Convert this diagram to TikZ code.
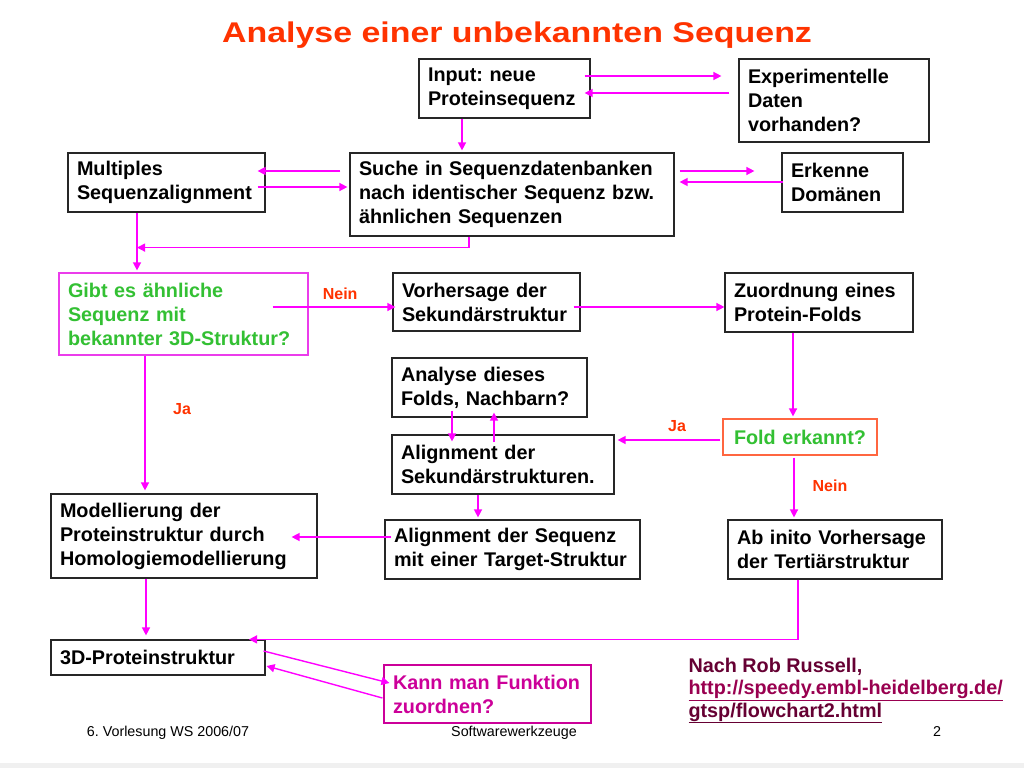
\documentclass[tikz,border=0pt]{standalone}
\usepackage{fontspec}
\setmainfont{Liberation Sans}
\usetikzlibrary{arrows.meta}
\definecolor{titlered}{RGB}{255,51,0}
\definecolor{okgreen}{RGB}{51,192,51}
\definecolor{kannpink}{RGB}{204,0,153}
\definecolor{arrmag}{RGB}{255,0,255}
\definecolor{gibtpink}{RGB}{235,60,235}
\definecolor{foldorange}{RGB}{255,102,64}
\definecolor{boxline}{RGB}{38,38,38}
\definecolor{srcdark}{RGB}{102,0,51}
\definecolor{srclink}{RGB}{153,0,80}
\frenchspacing
\begin{document}
\begin{tikzpicture}[x=1pt,y=-1pt,
  box/.style={draw=boxline,line width=1.2pt,inner xsep=9pt,inner ysep=0pt,align=left,
    font=\fontsize{19.8}{24}\selectfont\bfseries},
  arr/.style={draw=arrmag,line width=1.4pt,-{Triangle[length=8pt,width=8pt]}},
  lbl/.style={text=titlered,font=\fontsize{16}{18}\selectfont\bfseries},
  foot/.style={anchor=base,font=\fontsize{14.3}{16}\selectfont},
  ref/.style={anchor=base west,font=\fontsize{19.8}{24}\selectfont\bfseries}]
  \useasboundingbox[fill=white] (0,0) rectangle (1024,768);
  \fill[gray!12] (0,763) rectangle (1024,768);
  \node[anchor=base,text=titlered,font=\fontsize{28.5}{32}\selectfont\bfseries] (title) at (517,43)
    {\scalebox{1.19}[1]{Analyse einer unbekannten Sequenz}};

  % boxes
  \node[box,text width=153pt,minimum height=59pt] (input) at (504.5,88.5) {Input: neue\\Proteinsequenz};
  \node[box,text width=172pt,minimum height=83pt] (exper) at (834,100.5) {Experimentelle\\Daten\\vorhanden?};
  \node[box,text width=306pt,minimum height=83pt] (suche) at (512,194.5)
    {Suche in Sequenzdatenbanken\\nach identischer Sequenz bzw.\\ähnlichen Sequenzen};
  \node[box,text width=103pt,minimum height=59pt] (erkenne) at (842.5,182.5) {Erkenne\\Domänen};
  \node[box,text width=179pt,minimum height=59pt] (multi) at (166.5,182.5) {Multiples\\Sequenzalignment};
  \node[box,draw=gibtpink,text=okgreen,text width=231pt,minimum height=82pt] (gibt) at (183.5,314)
    {Gibt es ähnliche\\Sequenz mit\\bekannter 3D-Struktur?};
  \node[box,text width=169pt,minimum height=58pt] (vorher) at (486.5,302) {Vorhersage der\\Sekundärstruktur};
  \node[box,text width=170pt,minimum height=59pt] (zuord) at (819,302.5) {Zuordnung eines\\Protein-Folds};
  \node[box,text width=177pt,minimum height=59pt] (analyse) at (489.5,387.5) {Analyse dieses\\Folds, Nachbarn?};
  \node[box,text width=204pt,minimum height=59pt] (alignsek) at (503,464.5) {Alignment der\\Sekundärstrukturen.};
  \node[box,draw=foldorange,text=okgreen,align=center,text width=136pt,minimum height=36pt] (fold) at (800,437)
    {Fold erkannt?};
  \node[box,text width=248pt,minimum height=84pt] (modell) at (184,536)
    {Modellierung der\\Proteinstruktur durch\\Homologiemodellierung};
  \node[box,text width=237pt,minimum height=59pt] (alignseq) at (512.5,549.5)
    {Alignment der Sequenz\\mit einer Target-Struktur};
  \node[box,text width=196pt,minimum height=59pt] (abinitio) at (835,549.5) {Ab inito Vorhersage\\der Tertiärstruktur};
  \node[box,text width=196pt,minimum height=35pt] (prot3d) at (158,657.5) {3D-Proteinstruktur};
  \node[box,draw=kannpink,text=kannpink,text width=189pt,minimum height=58pt] (kann) at (487.5,694)
    {Kann man Funktion\\zuordnen?};

  % connectors
  \draw[arr] ([shift={(-6,-12.5)}]input.east) -- ([shift={(-17,-24.5)}]exper.west);
  \draw[arr] ([shift={(-9,-7.5)}]exper.west) -- ([shift={(-6,4.5)}]input.east);
  \draw[arr] ([shift={(-42.5,0)}]input.south) -- ([shift={(-50,-2)}]suche.north);
  \draw[arr] ([shift={(-9,-23.5)}]suche.west) -- ([shift={(-8,-11.5)}]multi.east);
  \draw[arr] ([shift={(-8,4.5)}]multi.east) -- ([shift={(-2,-7.5)}]suche.west);
  \draw[arr] ([shift={(5,-23.5)}]suche.east) -- ([shift={(-27,-11.5)}]erkenne.west);
  \draw[arr] ([shift={(2,-0.5)}]erkenne.west) -- ([shift={(5,-12.5)}]suche.east);
  \draw[arr] ([shift={(-43,0)}]suche.south) |- ([shift={(-29.5,35)}]multi.south);
  \draw[arr] ([shift={(-29.5,0)}]multi.south) -- ([shift={(-46.5,-2)}]gibt.north);
  \draw[arr] ([shift={(-36,-7)}]gibt.east) -- node[lbl,pos=0.55,above=3pt] (neina) {Nein} ([shift={(3,5)}]vorher.west);
  \draw[arr] ([shift={(-7,5)}]vorher.east) -- ([shift={(0,4.5)}]zuord.west);
  \draw[arr] ([shift={(-26,0)}]zuord.south) -- ([shift={(-7,-2)}]fold.north);
  \draw[arr] ([shift={(-38.5,0)}]gibt.south) -- ([shift={(-39,-3)}]modell.north);
  \node[lbl] (jaa) at (182,409) {Ja};
  \draw[arr] ([shift={(-37.5,-7)}]analyse.south) -- ([shift={(-51,7)}]alignsek.north);
  \draw[arr] ([shift={(-9,8)}]alignsek.north) -- ([shift={(4.5,-5)}]analyse.south);
  \draw[arr] ([shift={(-2,3)}]fold.west) -- ([shift={(3,-24.5)}]alignsek.east);
  \node[lbl] (jab) at (677,426) {Ja};
  \draw[arr] ([shift={(-6,2)}]fold.south) -- ([shift={(-41,-2)}]abinitio.north);
  \node[lbl] (neinb) at (830,486) {Nein};
  \draw[arr] ([shift={(-25,0)}]alignsek.south) -- ([shift={(-34.5,-2)}]alignseq.north);
  \draw[arr] ([shift={(7,-12.5)}]alignseq.west) -- ([shift={(-26,1)}]modell.east);
  \draw[arr] ([shift={(-38,0)}]modell.south) -- ([shift={(-12,-4)}]prot3d.north);
  \draw[arr] ([shift={(-37,0)}]abinitio.south) |- ([shift={(91,0)}]prot3d.north);
  \draw[arr] ([shift={(-2,-6.5)}]prot3d.east) -- ([shift={(6,-11)}]kann.west);
  \draw[arr] ([shift={(-1,4)}]kann.west) -- ([shift={(1,8.5)}]prot3d.east);

  % source and footer
  \node[ref,text=srcdark] (source) at (685,672) {Nach Rob Russell,};
  \node[ref,text=srclink] (urla) at ([yshift=-22.5pt]source.base west) {\underline{http://speedy.embl-heidelberg.de/}};
  \node[ref,text=srcdark] (urlb) at ([yshift=-22.5pt]urla.base west) {\underline{gtsp/flowchart2.html}};
  \node[foot] (lecture) at (168,736) {6. Vorlesung WS 2006/07};
  \node[foot] (course) at (514,736) {Softwarewerkzeuge};
  \node[foot] (page) at (937,736) {2};
\end{tikzpicture}
\end{document}
